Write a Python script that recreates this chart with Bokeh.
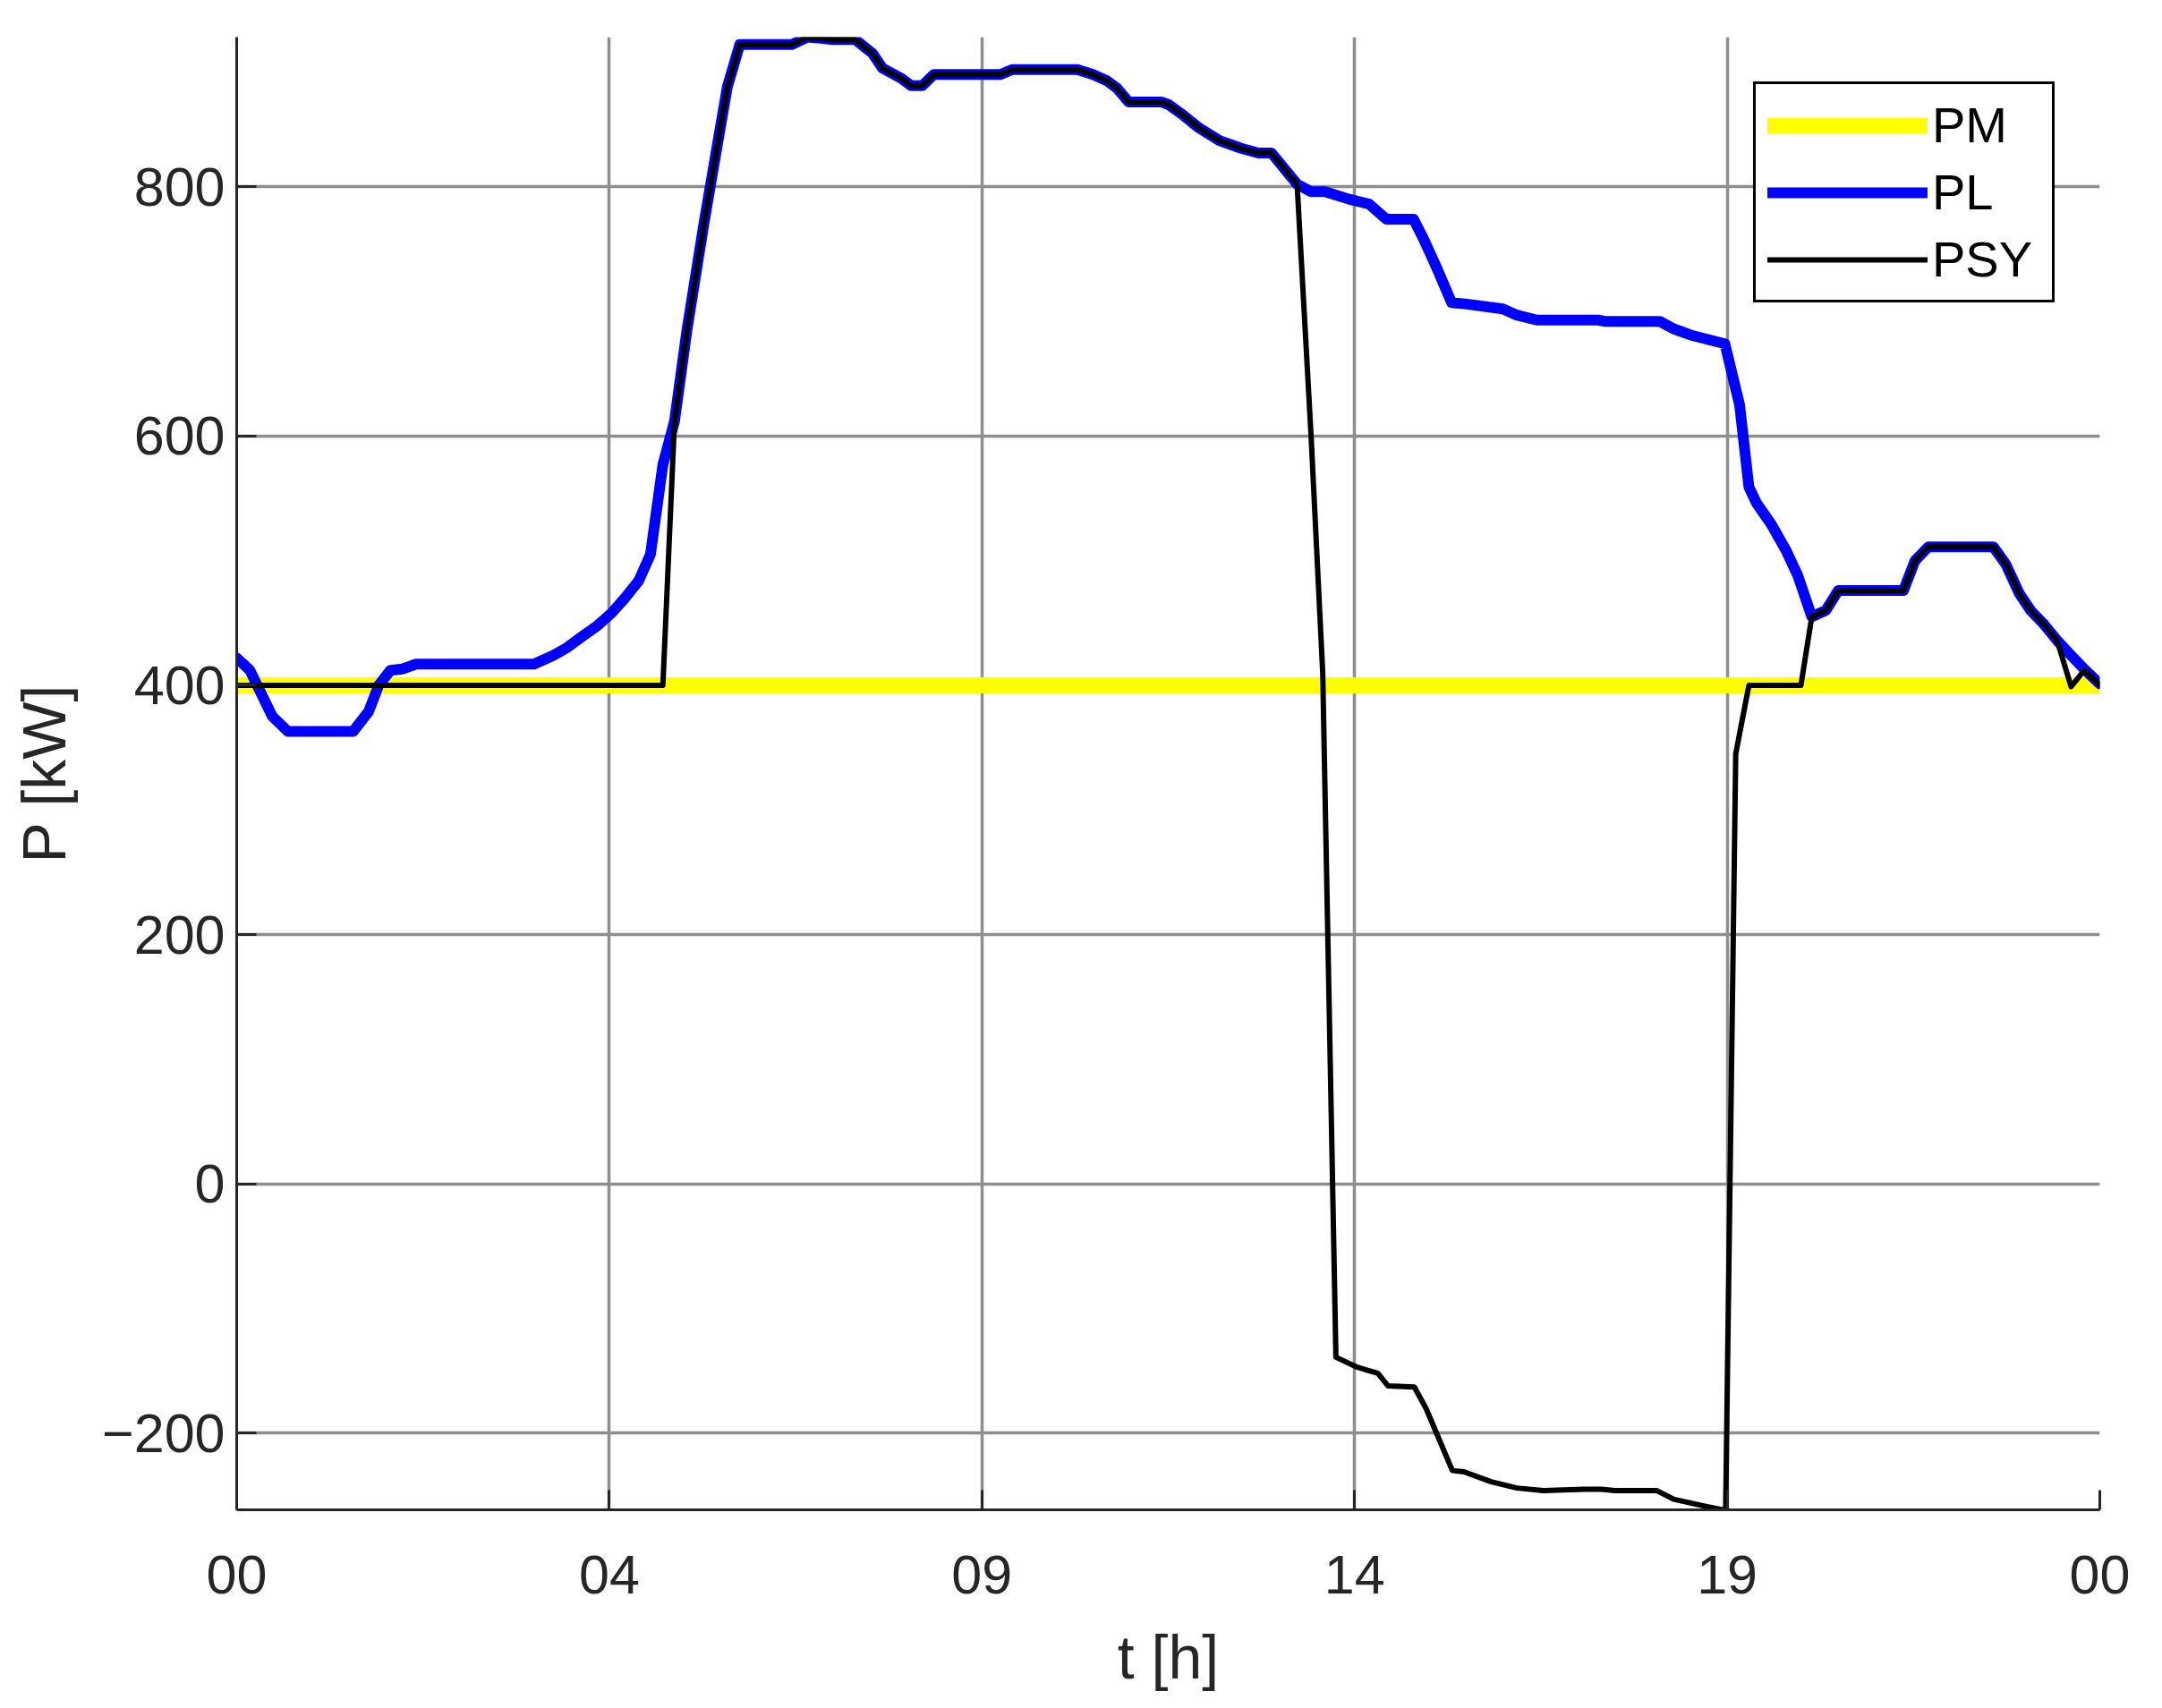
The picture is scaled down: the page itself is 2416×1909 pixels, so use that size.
from bokeh.plotting import figure
from bokeh.models import Range1d, FixedTicker, Legend, LegendItem
from bokeh.embed import file_html
from bokeh.resources import INLINE

# ---------------- data ----------------
x_ticks = [0, 4.8, 9.6, 14.4, 19.2, 24]
x_tick_labels = ["00", "04", "09", "14", "19", "00"]
y_ticks = [-200, 0, 200, 400, 600, 800]
y_tick_labels = ["\u2212200", "0", "200", "400", "600", "800"]

t_pm = [0, 24]
pm = [400, 400]

t_pl = [0.00, 0.17, 0.46, 0.66, 1.50, 1.70, 1.83, 1.98, 2.13, 2.31, 3.83, 4.08, 4.25, 4.47,
        4.65, 4.83, 5.00, 5.18, 5.33, 5.49, 5.64, 5.80, 6.02, 6.19, 6.32, 6.48, 7.15, 7.35,
        7.53, 7.68, 7.97, 8.19, 8.32, 8.56, 8.69, 8.83, 8.98, 9.84, 9.99, 10.83, 11.03, 11.21,
        11.34, 11.49, 11.91, 12.00, 12.18, 12.40, 12.66, 12.93, 13.16, 13.33, 13.66, 13.84,
        14.02, 14.33, 14.59, 14.81, 15.16, 15.29, 15.45, 15.65, 15.82, 16.31, 16.49, 16.75,
        17.54, 17.62, 18.33, 18.51, 18.73, 19.17, 19.36, 19.48, 19.58, 19.77, 19.96, 20.11,
        20.29, 20.47, 20.63, 21.47, 21.62, 21.79, 22.63, 22.79, 22.96, 23.11, 23.28, 23.45,
        23.63, 23.80, 24.00]
pl = [422, 412, 375, 363, 363, 379, 400, 412, 413, 417, 417, 424, 430, 440,
      448, 458, 470, 484, 505, 577, 612, 685, 771, 833, 880, 914, 914, 920,
      919, 918, 918, 907, 895, 887, 881, 881, 890, 890, 894, 894, 890, 885,
      879, 868, 868, 866, 858, 847, 837, 831, 827, 827, 802, 796,
      796, 790, 786, 774, 774, 758, 736, 707, 706, 702, 697, 693,
      693, 692, 692, 686, 681, 674, 625, 559, 546, 529, 508, 488,
      455, 460, 476, 476, 500, 511, 511, 497, 474, 460, 449, 436,
      424, 413, 401]

t_psy = [0, 5.49, 5.64, 5.80, 6.02, 6.19, 6.32, 6.48, 7.15, 7.35, 7.53, 7.68, 7.97, 8.19,
         8.32, 8.56, 8.69, 8.83, 8.98, 9.84, 9.99, 10.83, 11.03, 11.21, 11.34, 11.49, 11.91,
         12.00, 12.18, 12.40, 12.66, 12.93, 13.16, 13.33, 13.66, 13.84, 13.99, 14.16, 14.43,
         14.70, 14.83, 15.17, 15.32, 15.66, 15.81, 16.16, 16.49, 16.83, 17.36, 17.58, 17.75,
         18.29, 18.51, 18.87, 19.18, 19.31, 19.48, 20.15, 20.29, 20.47, 20.63, 21.47, 21.62,
         21.79, 22.63, 22.79, 22.96, 23.11, 23.28, 23.45, 23.63, 23.80, 24.00]
psy = [400, 400, 612, 685, 771, 833, 880, 914, 914, 920, 919, 918, 918, 907,
       895, 887, 881, 881, 890, 890, 894, 894, 890, 885, 879, 868, 868,
       866, 858, 847, 837, 831, 827, 827, 802, 600, 410, -139, -147,
       -152, -162, -163, -180, -230, -231, -239, -244, -246, -245, -245, -246,
       -246, -253, -258, -262, 345, 400, 400, 455, 460, 476, 476, 500,
       511, 511, 497, 474, 460, 449, 436, 399, 412, 400]

# ---------------- figure ----------------
FONT = "Liberation Sans"
TXT = "#262626"

p = figure(width=2400, height=1893, output_backend="svg", toolbar_location=None,
           x_range=Range1d(0, 24), y_range=Range1d(-261.5, 920),
           min_border_left=264, min_border_right=54, min_border_top=41, min_border_bottom=206,
           background_fill_color="white", border_fill_color="white")
p.outline_line_color = None

# axes
p.xaxis.ticker = FixedTicker(ticks=x_ticks)
p.xaxis.major_label_overrides = {t: s for t, s in zip(x_ticks, x_tick_labels)}
p.yaxis.ticker = FixedTicker(ticks=y_ticks)
p.yaxis.major_label_overrides = {t: s for t, s in zip(y_ticks, y_tick_labels)}
for ax in (p.xaxis, p.yaxis):
    ax.axis_line_color = TXT
    ax.axis_line_width = 3
    ax.major_tick_line_color = TXT
    ax.major_tick_line_width = 3
    ax.major_tick_in = 22
    ax.major_tick_out = 0
    ax.minor_tick_line_color = None
    ax.major_label_text_font = FONT
    ax.major_label_text_font_size = "61px"
    ax.major_label_text_color = TXT
    ax.axis_label_text_font = FONT
    ax.axis_label_text_font_size = "68px"
    ax.axis_label_text_color = TXT
    ax.axis_label_text_font_style = "normal"
p.xaxis.axis_label = "t [h]"
p.yaxis.axis_label = "P [kW]"
p.xaxis.major_label_standoff = 51
p.xaxis.axis_label_standoff = 30
p.yaxis.major_label_standoff = 13
p.yaxis.axis_label_standoff = 24

# grid
p.xgrid.ticker = FixedTicker(ticks=x_ticks)
p.ygrid.ticker = FixedTicker(ticks=y_ticks)
for g in (p.xgrid, p.ygrid):
    g.grid_line_color = "#8e8e8e"
    g.grid_line_width = 3.5

# lines
r_pm = p.line(t_pm, pm, line_color="#ffff00", line_width=18, line_cap="round", line_join="round")
r_pl = p.line(t_pl, pl, line_color="#0000ff", line_width=12, line_cap="round", line_join="round")
r_psy = p.line(t_psy, psy, line_color="#000000", line_width=6, line_cap="round", line_join="round")

legend = Legend(items=[LegendItem(label="PM", renderers=[r_pm]),
                       LegendItem(label="PL", renderers=[r_pl]),
                       LegendItem(label="PSY", renderers=[r_psy])],
                location="top_right")
legend.margin = 50
legend.padding = 13
legend.spacing = 10
legend.glyph_width = 179
legend.glyph_height = 56
legend.label_height = 56
legend.label_width = 121
legend.label_standoff = 5
legend.label_text_font = FONT
legend.label_text_font_size = "56px"
legend.label_text_color = "#000000"
legend.border_line_color = "#000000"
legend.border_line_alpha = 1.0
legend.border_line_width = 3
legend.background_fill_color = "white"
legend.background_fill_alpha = 1.0
p.add_layout(legend)

open("out.html", "w").write(file_html(p, INLINE))
